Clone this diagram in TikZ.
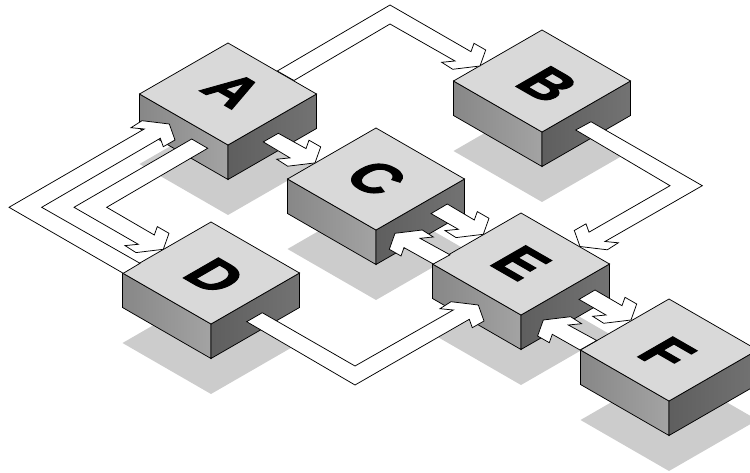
\documentclass[tikz,border=0pt]{standalone}
\usepackage{fontspec}
\setmainfont{Liberation Sans}
\newfontfamily\heavyfont[UprightFont=* Bold,FakeBold=2.2]{Liberation Sans}
\usetikzlibrary{calc}
\definecolor{topface}{HTML}{D9D9D9}
\definecolor{shadowc}{HTML}{CCCCCC}
\tikzset{
  edge/.style={draw=black,line width=0.75pt,line join=miter},
  flow/.style={edge,fill=white},
  letter/.style={transform shape,inner sep=0pt,font=\fontsize{40}{40}\heavyfont},
  leftside/.style={edge,left color=black!47,right color=black!36},
  rightside/.style={edge,left color=black!63,right color=black!55},
}
% half width 88.5, half height 51, depth 34.5, all in picture pixels
\newcommand{\isoshadow}[2]{\fill[shadowc] (#1-88.5,#2+70) -- (#1,#2+19) -- (#1+88.5,#2+70) -- (#1,#2+121) -- cycle;}
% #1 name, #2 #3 centre of the top face, #4 letter, #5 #6 letter offset
\newcommand{\isobox}[6]{%
  \coordinate (#1) at (#2,#3);
  \path[leftside] (#2-88.5,#3) -- (#2,#3+51) -- (#2,#3+85.5) -- (#2-88.5,#3+34.5) -- cycle;
  \path[rightside] (#2+88.5,#3) -- (#2,#3+51) -- (#2,#3+85.5) -- (#2+88.5,#3+34.5) -- cycle;
  \filldraw[edge,fill=topface] (#2-88.5,#3) -- (#2,#3-51) -- (#2+88.5,#3) -- (#2,#3+51) -- cycle;
  \begin{scope}[shift={(#2+#5,#3+#6)}]
    \node[letter,cm={1.2,-0.69,1.27,0.73,(0,0)}] (#1-label) at (0,0) {#4};
  \end{scope}}
% #1 tip name, #2 #3 mirror factors, #4 tail and bends, #5 bends and tail
\newcommand{\flowarrow}[5]{%
  \draw[flow] #4
    -- ([shift={(#2*-9,#3*-14.3)}]#1)
    -- ([shift={(#2*-6,#3*-22.7)}]#1)
    -- ([shift={(#2*5.7,#3*-16)}]#1)
    -- (#1)
    -- ([shift={(#2*-27.3,#3*3.3)}]#1)
    -- ([shift={(#2*-38.3,#3*-3.7)}]#1)
    -- ([shift={(#2*-25,#3*-5)}]#1)
    #5 -- cycle;}
\begin{document}
\begin{tikzpicture}[x=1pt,y=-1pt]
\useasboundingbox (0,0) rectangle (750,473);
\clip (0,0) rectangle (750,473);
\isoshadow{228}{94}\isoshadow{542}{81}\isoshadow{376}{179}
\isoshadow{211}{273}\isoshadow{521}{264}\isoshadow{669}{350}
\isobox{A}{228}{94}{A}{5}{-4}
\isobox{B}{542}{81}{B}{5.5}{3.5}
\isobox{C}{376}{179}{C}{0}{-1}
\isobox{D}{211}{273}{D}{4}{3}
\isobox{E}{521}{264}{E}{0}{-1}
\isobox{F}{669}{350}{F}{-2.3}{3.4}
% tips
\coordinate (tAB) at ([shift={(480-542,66-81)}]B);
\coordinate (tAC) at ([shift={(315-376,162.9-179)}]C);
\coordinate (tAD) at ([shift={(163.3-211,249.3-273)}]D);
\coordinate (tDA) at ([shift={(169.3-228,124-94)}]A);
\coordinate (tBE) at ([shift={(580-521,246.5-264)}]E);
\coordinate (tCE) at ([shift={(483.3-521,234.3-264)}]E);
\coordinate (tEC) at ([shift={(395-376,233.3-179)}]C);
\coordinate (tEF) at ([shift={(631-669,320-350)}]F);
\coordinate (tFE) at ([shift={(543.3-521,320-264)}]E);
\coordinate (tDE) at ([shift={(478.3-521,305-264)}]E);
% bends
\coordinate (bABo) at (390,5);    \coordinate (bABi) at (390,24);
\coordinate (bADo) at (74,207.3); \coordinate (bADi) at (106.7,207.3);
\coordinate (bDAo) at (9,207.3);  \coordinate (bDAi) at (41.7,207.3);
\coordinate (bBEo) at (702.3,185.7); \coordinate (bBEi) at (670,185.7);
\coordinate (bDEo) at (355,385);  \coordinate (bDEi) at (355,366);
% arrows
\flowarrow{tAB}{1}{1}{([shift={(277.3-228,71-94)}]A) -- (bABo)}{-- (bABi) -- ([shift={(294-228,80.5-94)}]A)}
\flowarrow{tAC}{1}{1}{([shift={(278.3-228,133.3-94)}]A)}{-- ([shift={(263.3-228,141.9-94)}]A)}
\flowarrow{tAD}{1}{1}{([shift={(207.7-228,148.3-94)}]A) -- (bADi)}{-- (bADo) -- ([shift={(191.7-228,139-94)}]A)}
\flowarrow{tDA}{1}{-1}{([shift={(140-211,263.3-273)}]D) -- (bDAi)}{-- (bDAo) -- ([shift={(123.3-211,273.3-273)}]D)}
\flowarrow{tBE}{-1}{1}{([shift={(575.7-542,130-81)}]B) -- (bBEi)}{-- (bBEo) -- ([shift={(591-542,121.7-81)}]B)}
\flowarrow{tCE}{1}{1}{([shift={(447.3-376,204-179)}]C)}{-- ([shift={(431-376,213.6-179)}]C)}
\flowarrow{tEC}{-1}{-1}{([shift={(433.3-521,264-264)}]E)}{-- ([shift={(450-521,254.8-264)}]E)}
\flowarrow{tEF}{1}{1}{([shift={(595-521,290-264)}]E)}{-- ([shift={(579-521,299.4-264)}]E)}
\flowarrow{tFE}{-1}{-1}{([shift={(580-669,350-350)}]F)}{-- ([shift={(596.7-669,340.5-350)}]F)}
\flowarrow{tDE}{1}{-1}{([shift={(246.7-211,321.7-273)}]D) -- (bDEo)}{-- (bDEi) -- ([shift={(262.3-211,312.7-273)}]D)}
\end{tikzpicture}
\end{document}
